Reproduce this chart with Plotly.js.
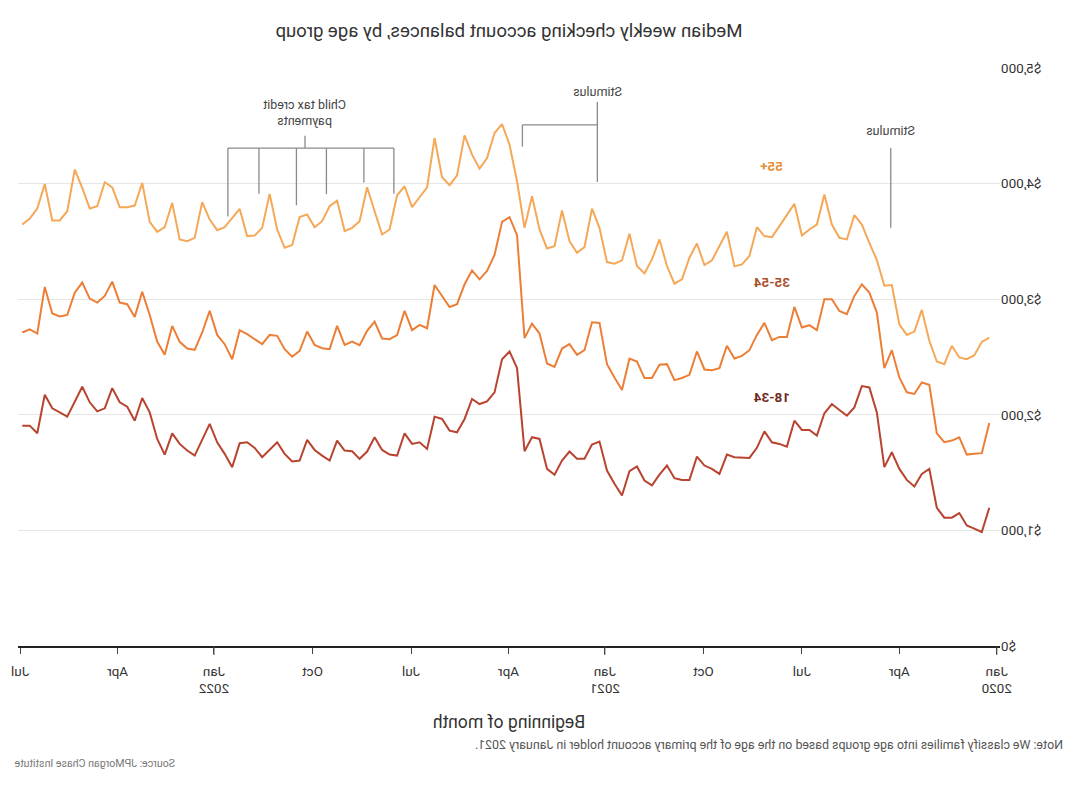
<!DOCTYPE html>
<html>
<head>
<meta charset="utf-8">
<script src="https://cdn.plot.ly/plotly-3.0.1.min.js"></script>
<style>
  html, body { margin: 0; padding: 0; background: #fff; }
  #wrap { width: 1070px; height: 800px; transform: scaleX(-1); transform-origin: 50% 50%; }
  #chart { width: 1070px; height: 800px; }
</style>
</head>
<body>
<div id="wrap"><div id="chart"></div></div>
<script>
// ---- data (weekly, first week starting 2020-01-08) ----
const firstWeek = '2020-01-08';

const age55plus = [
  2668,2631,2516,2481,2496,2597,2438,2461,2640,2907,2720,2691,2783,3123,3117,3339,3488,3646,3727,3517,
  3531,3646,3905,3646,3603,3551,3825,3733,3632,3537,3546,3623,3373,3301,3284,3583,3459,3336,3295,3482,
  3359,3172,3134,3287,3517,3344,3223,3287,3566,3336,3307,3321,3617,3784,3451,3402,3502,3767,3459,3439,
  3603,3891,3617,4020,4336,4515,4437,4221,4129,4250,4417,4072,3986,4055,4394,3968,3882,3796,3977,3899,
  3603,3560,3761,3968,3675,3617,3589,3853,3804,3675,3623,3733,3710,3468,3445,3603,3911,3617,3551,3546,
  3781,3698,3623,3597,3689,3839,3531,3502,3517,3833,3623,3583,3669,4006,3810,3796,3796,3968,4012,3804,
  3784,3963,4121,3761,3681,3681,3997,3784,3698,3646
];

const age35to54 = [
  1929,1668,1662,1656,1806,1777,1763,1840,2260,2280,2180,2195,2323,2559,2404,2884,3057,3129,3028,2870,
  2898,2999,2999,2732,2775,2755,2933,2674,2674,2645,2795,2691,2559,2510,2487,2597,2404,2386,2392,2548,
  2346,2318,2300,2438,2433,2318,2318,2461,2487,2214,2323,2438,2795,2801,2559,2519,2611,2573,2415,2444,
  2703,2789,2663,3554,3710,3669,3382,3244,3172,3249,3129,2957,2933,3028,3123,2749,2778,2732,2899,2689,
  2654,2660,2806,2726,2602,2634,2605,2769,2568,2576,2605,2720,2553,2502,2568,2683,2691,2611,2654,2697,
  2732,2481,2611,2691,2899,2712,2562,2573,2631,2769,2519,2634,2864,3065,2847,2957,2971,3152,3028,2971,
  3005,3144,3057,2864,2850,2876,3106,2703,2740,2712
];

const age18to34 = [
  1196,986,1015,1043,1150,1110,1110,1196,1532,1489,1380,1437,1532,1676,1547,2021,2237,2249,2064,1993,
  2041,2093,2013,1820,1869,1869,1949,1725,1748,1762,1857,1714,1627,1633,1633,1656,1489,1532,1561,1639,
  1437,1437,1452,1561,1483,1389,1432,1553,1512,1302,1403,1518,1768,1742,1619,1619,1682,1604,1481,1532,
  1791,1806,1685,2404,2548,2481,2194,2116,2093,2137,1964,1849,1863,1964,1984,1705,1762,1748,1840,1647,
  1656,1696,1806,1682,1619,1685,1691,1777,1604,1647,1696,1783,1604,1596,1662,1762,1696,1633,1714,1762,
  1754,1547,1662,1762,1921,1791,1647,1691,1748,1840,1656,1791,2021,2145,1949,2070,2108,2231,2056,2030,
  2108,2243,2113,1984,2021,2056,2174,1840,1906,1906
];

const tickDates = ['2020-01-01','2020-04-01','2020-07-01','2020-10-01','2021-01-01','2021-04-01',
                   '2021-07-01','2021-10-01','2022-01-01','2022-04-01','2022-07-01'];
const tickLabels = ['Jan<br>2020','Apr','Jul','Oct','Jan<br>2021','Apr','Jul','Oct','Jan<br>2022','Apr','Jul'];
const yTicks = [0,1000,2000,3000,4000,5000];
const yTickLabels = ['$0','$1,000','$2,000','$3,000','$4,000','$5,000'];

const childTaxDates = ['2021-07-17','2021-08-14','2021-09-18','2021-10-16','2021-11-20','2021-12-19'];
const childTaxLineEnds = [3912,4010,3909,3813,3912,3716];

// ---- build week dates ----
function addDays(iso, n) {
  const d = new Date(iso + 'T00:00:00Z');
  d.setUTCDate(d.getUTCDate() + n);
  return d.toISOString().slice(0,10);
}
const weeks = age55plus.map((_, i) => addDays(firstWeek, 7*i));

const C55 = '#f5a857', C35 = '#ec7f37', C18 = '#b84430';
const FONT = 'Roboto, "Liberation Sans", sans-serif';

const traces = [
  {x: weeks, y: age55plus, type: 'scatter', mode: 'lines', name: '55+', line: {color: C55, width: 2}},
  {x: weeks, y: age35to54, type: 'scatter', mode: 'lines', name: '35-54', line: {color: C35, width: 2}},
  {x: weeks, y: age18to34, type: 'scatter', mode: 'lines', name: '18-34', line: {color: C18, width: 2}}
];

const gray = '#8a8a8a';
const shapes = [];
function seg(x0, y0, x1, y1) {
  shapes.push({type: 'line', xref: 'x', yref: 'y', x0: x0, y0: y0, x1: x1, y1: y1,
               line: {color: gray, width: 1.3}});
}
// child tax credit bracket
seg(childTaxDates[0], 4307, childTaxDates[childTaxDates.length-1], 4307);
childTaxDates.forEach((d, i) => seg(d, 4307, d, childTaxLineEnds[i]));
seg('2021-10-08', 4307, '2021-10-08', 4415);
// stimulus 2020
seg('2020-04-09', 4309, '2020-04-09', 3618);
// stimulus 2021
seg('2021-01-08', 4706, '2021-01-08', 4013);
seg('2021-01-08', 4508, '2021-03-19', 4508);
seg('2021-03-19', 4508, '2021-03-19', 4320);
// longer Jan ticks
['2020-01-01','2021-01-01','2022-01-01'].forEach(d => {
  shapes.push({type: 'line', xref: 'x', yref: 'paper', x0: d, x1: d, y0: 0, y1: -0.0157,
               line: {color: '#444', width: 1}});
});

const annotations = [
  {text: 'Child tax credit<br>payments', x: '2021-10-08', y: 4611, xref: 'x', yref: 'y',
   showarrow: false, font: {family: FONT, size: 12.5, color: '#444'}, align: 'center'},
  {text: 'Stimulus', x: '2020-04-09', y: 4456, xref: 'x', yref: 'y',
   showarrow: false, font: {family: FONT, size: 12.5, color: '#444'}},
  {text: 'Stimulus', x: '2021-01-08', y: 4795, xref: 'x', yref: 'y',
   showarrow: false, font: {family: FONT, size: 12.5, color: '#444'}},
  {text: '<b>55+</b>', x: '2020-07-29', y: 4150, xref: 'x', yref: 'y',
   showarrow: false, font: {family: FONT, size: 13.5, color: '#e8913a'}},
  {text: '<b>35-54</b>', x: '2020-07-29', y: 3150, xref: 'x', yref: 'y',
   showarrow: false, font: {family: FONT, size: 13.5, color: '#a9502c'}},
  {text: '<b>18-34</b>', x: '2020-07-29', y: 2150, xref: 'x', yref: 'y',
   showarrow: false, font: {family: FONT, size: 13.5, color: '#6e281c'}},
  {text: 'Note: We classify families into age groups based on the age of the primary account holder in January 2021.',
   xref: 'paper', yref: 'paper', x: -0.066, y: -0.171, xanchor: 'left', yanchor: 'middle',
   showarrow: false, font: {family: FONT, size: 12.4, color: '#555'}},
  {text: 'Source: JPMorgan Chase Institute',
   xref: 'paper', yref: 'paper', x: 1.006, y: -0.204, xanchor: 'right', yanchor: 'middle',
   showarrow: false, font: {family: FONT, size: 10.6, color: '#777'}}
];

const layout = {
  width: 1070, height: 800,
  margin: {l: 70, r: 18, t: 68, b: 154},
  paper_bgcolor: '#fff', plot_bgcolor: '#fff',
  showlegend: false,
  title: {text: 'Median weekly checking account balances, by age group',
          x: 0.5, xref: 'paper', y: 0.962, yref: 'container', yanchor: 'middle',
          font: {family: FONT, size: 18.6, color: '#333'}},
  xaxis: {
    type: 'date', range: ['2019-12-29', '2022-07-03'],
    tickvals: tickDates, ticktext: tickLabels,
    ticks: 'outside', ticklen: 6, tickcolor: '#444', tickwidth: 1,
    ticklabelstandoff: 6,
    showgrid: false, zeroline: false,
    showline: true, linecolor: '#222', linewidth: 1.5,
    tickfont: {family: FONT, size: 13.5, color: '#333'},
    title: {text: 'Beginning of month', standoff: 20, font: {family: FONT, size: 17.5, color: '#333'}}
  },
  yaxis: {
    range: [0, 5000], tickvals: yTicks, ticktext: yTickLabels,
    showgrid: true, gridcolor: '#e6e6e6', gridwidth: 1,
    zeroline: false, showline: false, ticks: '',
    tickfont: {family: FONT, size: 13.5, color: '#333'}
  },
  shapes: shapes,
  annotations: annotations
};

Plotly.newPlot('chart', traces, layout, {displayModeBar: false, staticPlot: true});
</script>
</body>
</html>
